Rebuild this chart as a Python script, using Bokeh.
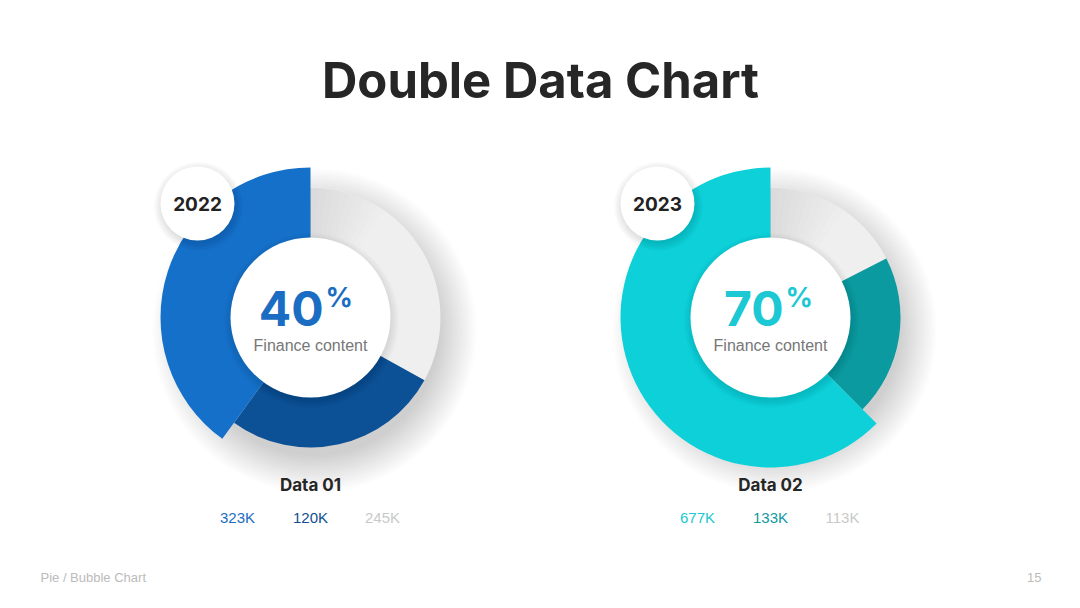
from bokeh.plotting import figure
from bokeh.models import Range1d
from bokeh.core.properties import value
from bokeh.embed import file_html
from bokeh.resources import INLINE
import numpy as np

W, H = 1064, 592

# ---- data ----
title = "Double Data Chart"
years = ["2022", "2023"]
percent_labels = ["40", "70"]
subtitle = "Finance content"
data_names = ["Data 01", "Data 02"]
value_labels_1 = ["323K", "120K", "245K"]
value_labels_2 = ["677K", "133K", "113K"]
# arc shares (percent of ring): main, secondary, rest
shares_1 = [40, 27, 33]
shares_2 = [62.5, 20, 17.5]
colors_1 = ["#1570c9", "#0c5095", "#efefef"]
colors_2 = ["#0dd0d9", "#0b9a9f", "#efefef"]
text_colors_1 = ["#1a6dc2", "#0f4f92", "#c9c9c9"]
text_colors_2 = ["#1bc8d3", "#0f9aa0", "#c9c9c9"]
footer_left = "Pie / Bubble Chart"
footer_right = "15"


def X(px):
    return px


def Y(py):
    return H - py


p = figure(width=W, height=H, x_range=Range1d(0, W), y_range=Range1d(0, H),
           output_backend="svg", toolbar_location=None, min_border=0)
p.axis.visible = False
p.grid.visible = False
p.outline_line_color = None
p.background_fill_color = "white"
p.border_fill_color = "white"

HEAD = "Inter"
BODY = "Liberation Sans"

p.text([X(540)], [Y(80)], text=[title], text_font=value(HEAD), text_font_size=value("49px"),
       text_font_style="bold", text_color="#262626", text_align="center", text_baseline="middle")


def donut(cx, cy, shares, colors, tcolors, year, pct, name, vals):
    x0, y0 = X(cx), Y(cy)
    # soft drop shadow
    for i in range(16):
        p.circle([x0 + 4], [y0 - 13], radius=126 + i * 2.4, fill_color="#000000",
                 fill_alpha=0.010, line_color=None)
    frac = np.array(shares, dtype=float) / np.sum(shares)
    ends = np.cumsum(frac) * 2 * np.pi
    starts = np.concatenate([[0], ends[:-1]])
    base = np.pi / 2
    outer = [150, 130, 130]
    order = [2, 1, 0]
    for k in order:
        p.annular_wedge([x0], [y0], inner_radius=79, outer_radius=outer[k],
                        start_angle=base + starts[k], end_angle=base + ends[k],
                        fill_color=colors[k], line_color=None)
    # soft shading on the grey part next to the main arc (gradient)
    for i in range(10):
        p.annular_wedge([x0], [y0], inner_radius=79, outer_radius=130,
                        start_angle=base - 0.06 * (i + 1), end_angle=base,
                        fill_color="#000000", fill_alpha=0.007, line_color=None)
    # inner circle shadow + disc
    for i in range(6):
        p.circle([x0 + 1], [y0 - 3], radius=80 + i * 1.5, fill_color="#000000",
                 fill_alpha=0.016, line_color=None)
    p.circle([x0], [y0], radius=80, fill_color="white", line_color=None)
    # year bubble
    bx, by = x0 - 113, y0 + 114
    for i in range(6):
        p.circle([bx + 1], [by - 3], radius=37 + i * 1.5, fill_color="#000000",
                 fill_alpha=0.018, line_color=None)
    p.circle([bx], [by], radius=37, fill_color="white", line_color=None)
    p.text([bx], [by], text=[year], text_font=value(HEAD), text_font_size=value("19px"),
           text_font_style="bold", text_color="#222222", text_align="center", text_baseline="middle")
    # big percent
    p.text([x0 + 13], [Y(308)], text=[pct], text_font=value(HEAD), text_font_size=value("48px"),
           text_font_style="bold", text_color=tcolors[0], text_align="right", text_baseline="middle")
    p.text([x0 + 15], [Y(297)], text=["%"], text_font=value(HEAD), text_font_size=value("27px"),
           text_font_style="bold", text_color=tcolors[0], text_align="left", text_baseline="middle")
    p.text([x0], [Y(345)], text=[subtitle], text_font=value(BODY), text_font_size=value("16px"),
           text_color="#777777", text_align="center", text_baseline="middle")
    # data name and values
    p.text([x0], [Y(484)], text=[name], text_font=value(HEAD), text_font_size=value("17px"),
           text_font_style="bold", text_color="#262626", text_align="center", text_baseline="middle")
    offs = [-73, 0, 72]
    for j in range(3):
        p.text([x0 + offs[j]], [Y(517)], text=[vals[j]], text_font=value(BODY),
               text_font_size=value("15px"), text_color=tcolors[j], text_align="center",
               text_baseline="middle")


donut(310, 317, shares_1, colors_1, text_colors_1, years[0], percent_labels[0], data_names[0], value_labels_1)
donut(770, 317, shares_2, colors_2, text_colors_2, years[1], percent_labels[1], data_names[1], value_labels_2)

p.text([X(40)], [Y(577)], text=[footer_left], text_font=value(BODY), text_font_size=value("13px"),
       text_color="#bbbbbb", text_align="left", text_baseline="middle")
p.text([X(1041)], [Y(577)], text=[footer_right], text_font=value(BODY), text_font_size=value("13px"),
       text_color="#bbbbbb", text_align="right", text_baseline="middle")

open("out.html", "w").write(file_html(p, INLINE))
